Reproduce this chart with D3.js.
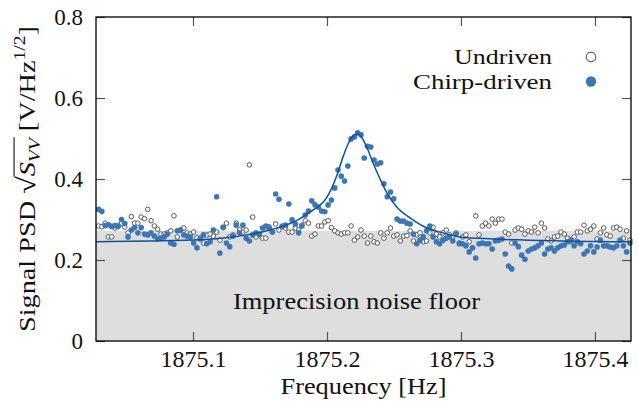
<!DOCTYPE html>
<html>
<head>
<meta charset="utf-8">
<script src="https://cdn.jsdelivr.net/npm/d3@7"></script>
<style>
  html, body { margin: 0; padding: 0; background: #fff; }
  svg text { font-family: "Liberation Serif", "Times New Roman", Times, "DejaVu Serif", serif !important; }
</style>
</head>
<body>
<svg id="chart" width="639" height="414"></svg>
<script>
// Frequency bins (FFT grid) and axis ranges
const F_START = 1875.0295;
const F_STEP = 0.002448;
const X_DOMAIN = [1875.0276, 1875.4269];
const Y_DOMAIN = [0, 0.8];
const X_TICKS = [1875.1, 1875.2, 1875.3, 1875.4];
const Y_TICKS = [0, 0.2, 0.4, 0.6, 0.8];

const SERIES = ["Undriven", "Chirp-driven"];

// Undriven PSD, one value per bin
const UNDRIVEN = [
  0.284,0.282,0.291,0.257,0.257,0.279,0.286,0.291,0.281,0.267,
  0.307,0.291,0.291,0.306,0.302,0.325,0.297,0.284,0.276,0.264,
  0.264,0.267,0.272,0.309,0.257,0.274,0.279,0.267,0.264,0.269,
  0.255,0.254,0.242,0.262,0.264,0.259,0.269,0.249,0.281,0.291,
  0.257,0.262,0.291,0.274,0.269,0.274,0.435,0.306,0.257,0.262,
  0.254,0.254,0.282,0.269,0.289,0.274,0.282,0.279,0.269,0.269,
  0.279,0.274,0.286,0.297,0.291,0.259,0.264,0.284,0.284,0.294,
  0.297,0.280,0.272,0.267,0.264,0.267,0.267,0.284,0.249,0.257,
  0.274,0.259,0.242,0.259,0.245,0.242,0.267,0.254,0.267,0.279,
  0.259,0.262,0.247,0.259,0.260,0.272,0.247,0.262,0.267,0.245,
  0.247,0.267,0.281,0.264,0.257,0.267,0.274,0.262,0.257,0.267,
  0.242,0.257,0.262,0.245,0.230,0.309,0.262,0.284,0.291,0.284,
  0.301,0.291,0.301,0.301,0.269,0.264,0.242,0.274,0.279,0.276,
  0.264,0.272,0.269,0.281,0.267,0.291,0.279,0.252,0.247,0.257,
  0.259,0.269,0.264,0.254,0.245,0.257,0.269,0.269,0.286,0.272,
  0.276,0.284,0.252,0.267,0.279,0.262,0.259,0.279,0.281,0.276,
  0.254,0.272,0.249
];

// Chirp-driven PSD, one value per bin
const CHIRP = [
  0.325,0.320,0.285,0.287,0.283,0.285,0.283,0.300,0.290,0.257,
  0.274,0.280,0.267,0.280,0.264,0.262,0.267,0.259,0.252,0.254,
  0.257,0.264,0.242,0.239,0.272,0.274,0.262,0.259,0.257,0.242,
  0.230,0.252,0.262,0.240,0.245,0.274,0.356,0.217,0.280,0.242,
  0.233,0.259,0.286,0.267,0.286,0.254,0.247,0.262,0.267,0.264,
  0.279,0.284,0.279,0.269,0.363,0.350,0.284,0.286,0.338,0.299,
  0.289,0.267,0.284,0.311,0.321,0.346,0.336,0.331,0.321,0.319,
  0.336,0.348,0.378,0.422,0.407,0.395,0.432,0.499,0.504,0.514,
  0.509,0.452,0.481,0.479,0.447,0.437,0.440,0.388,0.356,0.368,
  0.351,0.301,0.296,0.296,0.291,0.289,0.264,0.240,0.249,0.257,
  0.272,0.284,0.257,0.245,0.240,0.249,0.254,0.257,0.247,0.264,
  0.240,0.240,0.235,0.220,0.230,0.205,0.240,0.242,0.240,0.240,
  0.227,0.247,0.249,0.252,0.215,0.185,0.178,0.242,0.233,0.212,
  0.202,0.222,0.227,0.230,0.235,0.242,0.215,0.227,0.230,0.222,
  0.230,0.235,0.237,0.245,0.249,0.235,0.245,0.240,0.215,0.222,
  0.235,0.220,0.232,0.249,0.235,0.235,0.232,0.230,0.235,0.249,
  0.235,0.220,0.242
];

// Fitted resonance curve
const FIT_FREQ = [
  1875.0276, 1875.0679, 1875.1052, 1875.1276, 1875.1522, 1875.1776, 1875.1895,
  1875.2000, 1875.2075, 1875.2119, 1875.2172, 1875.2201, 1875.2231, 1875.2261,
  1875.2299, 1875.2343, 1875.2396, 1875.2448, 1875.2522, 1875.2619, 1875.2746,
  1875.2866, 1875.2992, 1875.3239, 1875.3739, 1875.4269
];
const FIT_PSD = [
  0.245, 0.247, 0.250, 0.256, 0.270, 0.298, 0.323,
  0.355, 0.410, 0.454, 0.496, 0.507, 0.511, 0.502,
  0.477, 0.440, 0.400, 0.365, 0.330, 0.304, 0.279,
  0.267, 0.257, 0.252, 0.247, 0.245
];

const NOISE_FLOOR = 0.272;
const FLOOR_LABEL = "Imprecision noise floor";
const FLOOR_LABEL_AT = [1875.222, 0.08];

const W = 639, H = 414;
const margin = { top: 17, right: 8, bottom: 73, left: 96 };

const svg = d3.select("#chart");

const x = d3.scaleLinear().domain(X_DOMAIN).range([margin.left, W - margin.right]);
const y = d3.scaleLinear().domain(Y_DOMAIN).range([H - margin.bottom, margin.top]);

const BLUE = "#3b77b6";
const LINE_BLUE = "#0d52a0";
const FONT = 23;
const SERIF = "'Liberation Serif', 'Times New Roman', serif";

// noise floor band
svg.append("rect")
  .attr("x", x(X_DOMAIN[0]))
  .attr("y", y(NOISE_FLOOR))
  .attr("width", x(X_DOMAIN[1]) - x(X_DOMAIN[0]))
  .attr("height", y(0) - y(NOISE_FLOOR))
  .attr("fill", "#dedede");

svg.append("text")
  .attr("x", x(FLOOR_LABEL_AT[0]))
  .attr("y", y(FLOOR_LABEL_AT[1]))
  .attr("text-anchor", "middle")
  .attr("font-family", SERIF)
  .attr("font-size", FONT + 1)
  .attr("textLength", 247)
  .attr("lengthAdjust", "spacingAndGlyphs")
  .attr("fill", "#111")
  .text(FLOOR_LABEL);

const undriven = UNDRIVEN.map((v, i) => ({ f: F_START + i * F_STEP, v }));
const chirp = CHIRP.map((v, i) => ({ f: F_START + i * F_STEP, v }));

// data points
svg.append("g")
  .selectAll("circle")
  .data(undriven)
  .enter()
  .append("circle")
  .attr("cx", d => x(d.f))
  .attr("cy", d => y(d.v))
  .attr("r", 2.3)
  .attr("fill", "#fff")
  .attr("stroke", "#4a4a4a")
  .attr("stroke-width", 0.9);

svg.append("g")
  .selectAll("circle")
  .data(chirp)
  .enter()
  .append("circle")
  .attr("cx", d => x(d.f))
  .attr("cy", d => y(d.v))
  .attr("r", 2.8)
  .attr("fill", BLUE);

// fit line
const fit = FIT_FREQ.map((f, i) => ({ f, v: FIT_PSD[i] }));
svg.append("path")
  .datum(fit)
  .attr("fill", "none")
  .attr("stroke", LINE_BLUE)
  .attr("stroke-width", 1.5)
  .attr("d", d3.line().x(d => x(d.f)).y(d => y(d.v)).curve(d3.curveMonotoneX));

// axes (inward ticks, mirrored)
function styleAxis(g) {
  g.attr("font-family", SERIF);
  g.select(".domain").remove();
  g.selectAll(".tick line").attr("stroke", "#555").attr("stroke-width", 1.2);
  g.selectAll("text").attr("font-family", SERIF)
    .attr("font-size", FONT).attr("fill", "#111");
}

svg.append("g")
  .attr("transform", `translate(0,${y(0)})`)
  .call(d3.axisBottom(x).tickValues(X_TICKS).tickSize(-9).tickPadding(10)
    .tickFormat(d3.format(".1f")))
  .call(styleAxis)
  .selectAll("text")
  .attr("textLength", 66)
  .attr("lengthAdjust", "spacingAndGlyphs");

svg.append("g")
  .attr("transform", `translate(0,${y(Y_DOMAIN[1])})`)
  .call(d3.axisTop(x).tickValues(X_TICKS).tickSize(-9).tickFormat(""))
  .call(styleAxis);

svg.append("g")
  .attr("transform", `translate(${x(X_DOMAIN[0])},0)`)
  .call(d3.axisLeft(y).tickValues(Y_TICKS).tickSize(-9).tickPadding(13)
    .tickFormat(d => d === 0 ? "0" : d3.format(".1f")(d)))
  .call(styleAxis);

svg.append("g")
  .attr("transform", `translate(${x(X_DOMAIN[1])},0)`)
  .call(d3.axisRight(y).tickValues(Y_TICKS).tickSize(-9).tickFormat(""))
  .call(styleAxis);

// frame
svg.append("rect")
  .attr("x", x(X_DOMAIN[0]))
  .attr("y", y(Y_DOMAIN[1]))
  .attr("width", x(X_DOMAIN[1]) - x(X_DOMAIN[0]))
  .attr("height", y(0) - y(Y_DOMAIN[1]))
  .attr("fill", "none")
  .attr("stroke", "#000")
  .attr("stroke-width", 1.3);

// x label
svg.append("text")
  .attr("x", (x(X_DOMAIN[0]) + x(X_DOMAIN[1])) / 2)
  .attr("y", 394)
  .attr("text-anchor", "middle")
  .attr("font-family", SERIF)
  .attr("font-size", FONT)
  .attr("textLength", 166)
  .attr("lengthAdjust", "spacingAndGlyphs")
  .attr("fill", "#111")
  .text("Frequency [Hz]");

// y label with sqrt(S_VV) and units
const yl = svg.append("g")
  .attr("transform", `translate(27,${(y(0) + y(Y_DOMAIN[1])) / 2}) rotate(-90)`);
const ytext = yl.append("text")
  .attr("text-anchor", "middle")
  .attr("dy", "0.35em")
  .attr("font-family", SERIF)
  .attr("font-size", FONT)
  .attr("fill", "#111");
ytext.append("tspan").text("Signal PSD ");
ytext.append("tspan").attr("font-size", FONT + 3).text("\u221A");
ytext.append("tspan").attr("font-style", "italic").text("S");
ytext.append("tspan").attr("font-style", "italic").attr("font-size", 16).attr("dy", 5).text("VV");
ytext.append("tspan").attr("dy", -5).text(" [V/Hz");
ytext.append("tspan").attr("font-size", 16).attr("dy", -10).text("1/2");
ytext.append("tspan").attr("dy", 10).text("]");
ytext.attr("textLength", 306).attr("lengthAdjust", "spacingAndGlyphs");

// overline over S_VV
const tn = ytext.node();
const rad = tn.getExtentOfChar(11);
const endVV = tn.getEndPositionOfChar(14);
yl.append("line")
  .attr("x1", rad.x + rad.width - 0.5)
  .attr("x2", endVV.x + 1)
  .attr("y1", rad.y + 2)
  .attr("y2", rad.y + 2)
  .attr("stroke", "#111")
  .attr("stroke-width", 1.1);

// legend
const legend = svg.append("g")
  .attr("transform", `translate(${x(X_DOMAIN[1])},${y(Y_DOMAIN[1])})`);
const items = legend.selectAll("g")
  .data(SERIES)
  .enter()
  .append("g")
  .attr("transform", (d, i) => `translate(0,${40 + i * 24.5})`);
items.append("text")
  .attr("x", -79)
  .attr("dy", "0.32em")
  .attr("text-anchor", "end")
  .attr("font-family", SERIF)
  .attr("font-size", 22)
  .attr("textLength", d => d === "Undriven" ? 98 : 139)
  .attr("lengthAdjust", "spacingAndGlyphs")
  .attr("fill", "#111")
  .text(d => d);
items.append("circle")
  .attr("cx", -40)
  .attr("cy", 0)
  .attr("r", d => d === "Undriven" ? 4.8 : 5.2)
  .attr("fill", d => d === "Undriven" ? "#fff" : BLUE)
  .attr("stroke", d => d === "Undriven" ? "#4a4a4a" : "none")
  .attr("stroke-width", 1);
</script>
</body>
</html>
